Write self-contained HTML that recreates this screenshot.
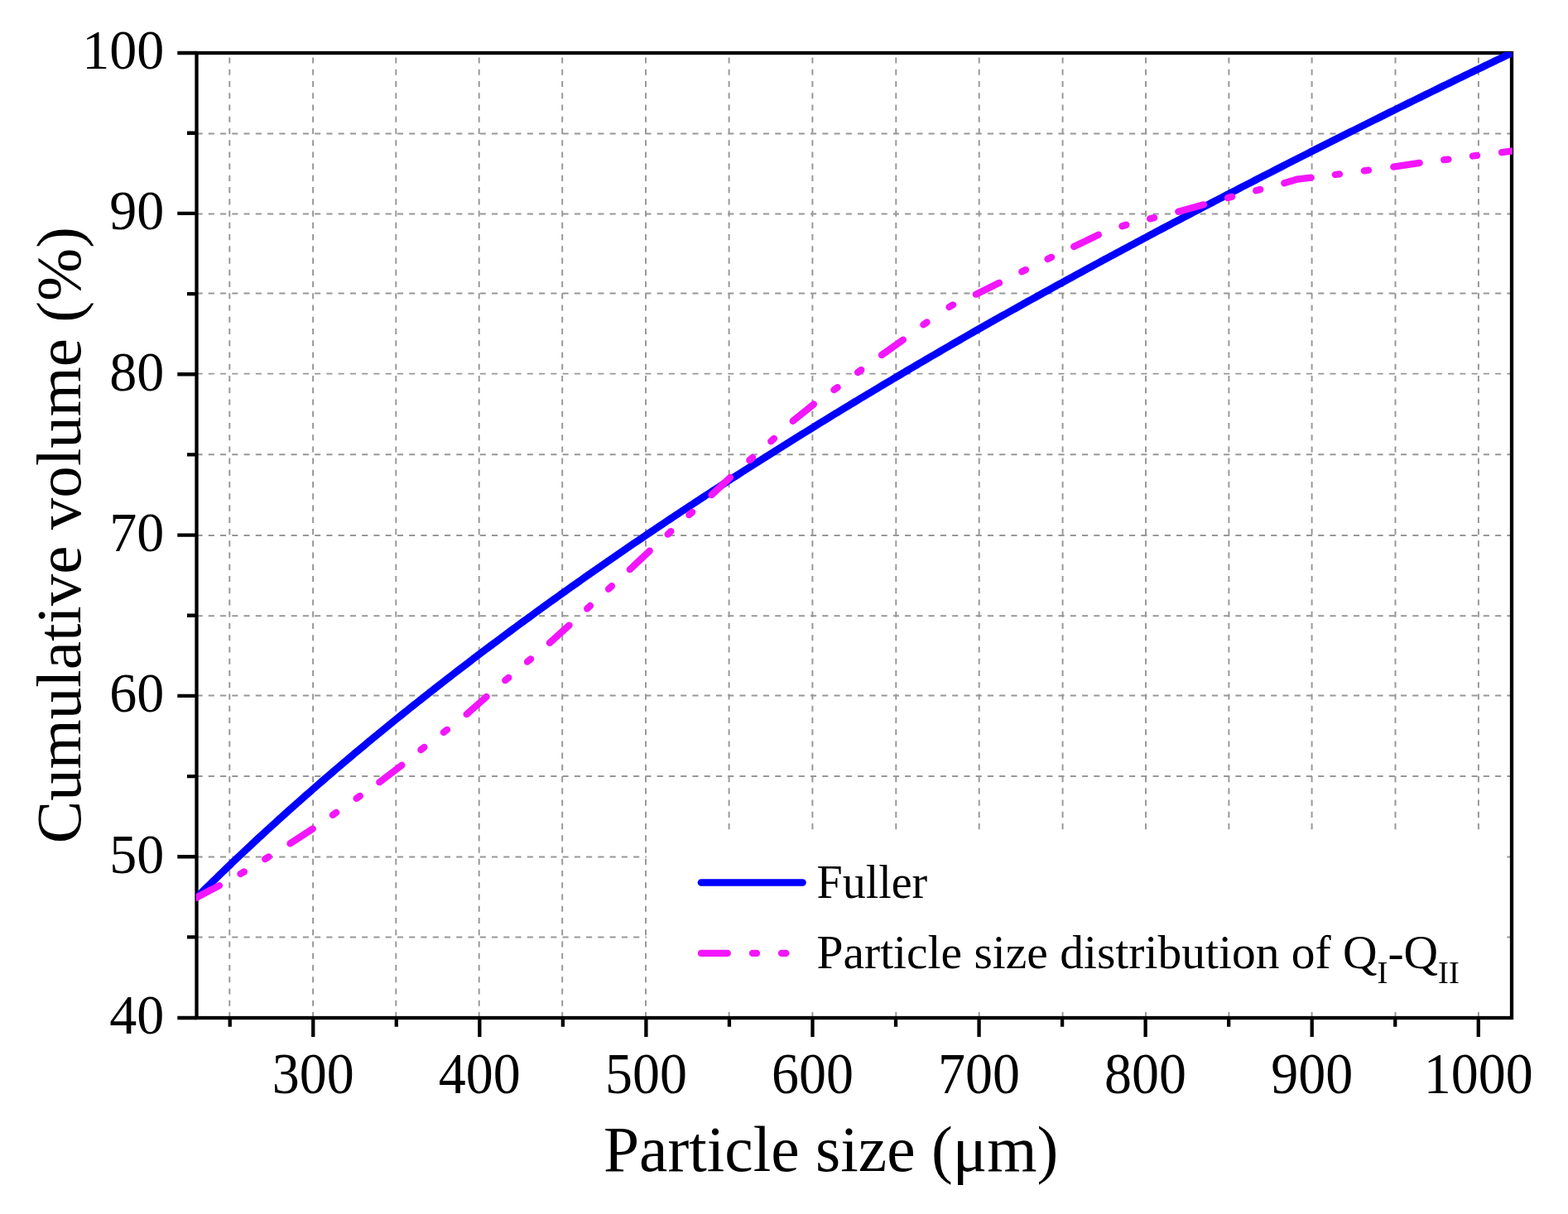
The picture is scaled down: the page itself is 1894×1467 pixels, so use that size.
<!DOCTYPE html>
<html><head><meta charset="utf-8"><title>Cumulative volume vs particle size</title>
<style>html,body{margin:0;padding:0;background:#fff;overflow:hidden}svg{display:block}</style>
</head><body>
<svg width="1894" height="1467" viewBox="0 0 1894 1467">
<rect width="1894" height="1467" fill="#fff"/>
<path d="M277.30 1230.00V64.00 M378.10 1230.00V64.00 M478.30 1230.00V64.00 M578.70 1230.00V64.00 M679.20 1230.00V64.00 M780.00 1230.00V64.00 M880.60 1230.00V64.00 M981.40 1230.00V64.00 M1082.30 1230.00V64.00 M1182.70 1230.00V64.00 M1283.60 1230.00V64.00 M1384.00 1230.00V64.00 M1484.40 1230.00V64.00 M1584.60 1230.00V64.00 M1685.50 1230.00V64.00 M1785.90 1230.00V64.00" stroke="#979797" stroke-width="1.95" stroke-dasharray="7.1 7.14" fill="none"/>
<path d="M237.50 1132.40H1826.00 M237.50 1035.50H1826.00 M237.50 938.00H1826.00 M237.50 840.50H1826.00 M237.50 744.30H1826.00 M237.50 646.90H1826.00 M237.50 549.30H1826.00 M237.50 451.60H1826.00 M237.50 354.50H1826.00 M237.50 258.50H1826.00 M237.50 161.40H1826.00" stroke="#979797" stroke-width="1.95" stroke-dasharray="7.1 7.16" fill="none"/>
<rect x="781" y="1005.5" width="1036" height="214" fill="#fff"/>
<rect x="237.5" y="64.0" width="1588.5" height="1166.0" fill="none" stroke="#000" stroke-width="4.3"/>
<path d="M237.50 1230.00H214.30 M237.50 1132.43H226.00 M237.50 1035.27H214.30 M237.50 938.10H226.00 M237.50 840.93H214.30 M237.50 743.77H226.00 M237.50 646.60H214.30 M237.50 549.43H226.00 M237.50 452.27H214.30 M237.50 355.10H226.00 M237.50 257.93H214.30 M237.50 160.77H226.00 M237.50 64.00H214.30 M277.72 1230.00V1240.70 M378.25 1230.00V1253.00 M478.79 1230.00V1240.70 M579.33 1230.00V1253.00 M679.87 1230.00V1240.70 M780.41 1230.00V1253.00 M880.94 1230.00V1240.70 M981.48 1230.00V1253.00 M1082.02 1230.00V1240.70 M1182.56 1230.00V1253.00 M1283.09 1230.00V1240.70 M1383.63 1230.00V1253.00 M1484.17 1230.00V1240.70 M1584.71 1230.00V1253.00 M1685.25 1230.00V1240.70 M1785.78 1230.00V1253.00" stroke="#000" stroke-width="4.3" fill="none"/>
<defs><clipPath id="c"><rect x="236.7" y="63" width="1590.3" height="1168"/></clipPath></defs>
<g clip-path="url(#c)"><polyline points="237.50,1084.53 241.47,1080.57 245.44,1076.64 249.41,1072.72 253.39,1068.81 257.36,1064.92 261.33,1061.05 265.30,1057.20 269.27,1053.36 273.24,1049.53 277.21,1045.72 281.18,1041.93 285.15,1038.15 289.13,1034.38 293.10,1030.63 297.07,1026.89 301.04,1023.17 305.01,1019.46 308.98,1015.77 312.95,1012.09 316.93,1008.42 320.90,1004.77 324.87,1001.13 328.84,997.50 332.81,993.89 336.78,990.29 340.75,986.70 344.72,983.12 348.70,979.56 352.67,976.01 356.64,972.47 360.61,968.94 364.58,965.43 368.55,961.92 372.52,958.43 376.49,954.95 380.47,951.48 384.44,948.03 388.41,944.58 392.38,941.14 396.35,937.72 400.32,934.31 404.29,930.91 408.26,927.51 412.23,924.13 416.21,920.76 420.18,917.40 424.15,914.05 428.12,910.72 432.09,907.39 436.06,904.07 440.03,900.76 444.00,897.46 447.98,894.17 451.95,890.89 455.92,887.62 459.89,884.36 463.86,881.11 467.83,877.87 471.80,874.63 475.77,871.41 479.75,868.20 483.72,864.99 487.69,861.80 491.66,858.61 495.63,855.43 499.60,852.26 503.57,849.10 507.55,845.95 511.52,842.80 515.49,839.67 519.46,836.54 523.43,833.42 527.40,830.31 531.37,827.21 535.34,824.11 539.32,821.03 543.29,817.95 547.26,814.88 551.23,811.82 555.20,808.76 559.17,805.72 563.14,802.68 567.11,799.65 571.09,796.62 575.06,793.61 579.03,790.60 583.00,787.60 586.97,784.60 590.94,781.62 594.91,778.64 598.88,775.67 602.86,772.70 606.83,769.74 610.80,766.79 614.77,763.85 618.74,760.91 622.71,757.98 626.68,755.06 630.65,752.14 634.62,749.23 638.60,746.33 642.57,743.43 646.54,740.54 650.51,737.66 654.48,734.79 658.45,731.92 662.42,729.05 666.39,726.19 670.37,723.34 674.34,720.50 678.31,717.66 682.28,714.83 686.25,712.00 690.22,709.18 694.19,706.37 698.16,703.56 702.14,700.76 706.11,697.97 710.08,695.18 714.05,692.39 718.02,689.62 721.99,686.84 725.96,684.08 729.93,681.32 733.91,678.56 737.88,675.82 741.85,673.07 745.82,670.34 749.79,667.60 753.76,664.88 757.73,662.16 761.70,659.44 765.68,656.73 769.65,654.03 773.62,651.33 777.59,648.63 781.56,645.95 785.53,643.26 789.50,640.58 793.48,637.91 797.45,635.25 801.42,632.58 805.39,629.93 809.36,627.27 813.33,624.63 817.30,621.99 821.27,619.35 825.24,616.72 829.22,614.09 833.19,611.47 837.16,608.85 841.13,606.24 845.10,603.63 849.07,601.03 853.04,598.43 857.02,595.84 860.99,593.25 864.96,590.67 868.93,588.09 872.90,585.52 876.87,582.95 880.84,580.38 884.81,577.82 888.78,575.27 892.76,572.72 896.73,570.17 900.70,567.63 904.67,565.09 908.64,562.56 912.61,560.03 916.58,557.51 920.56,554.99 924.53,552.47 928.50,549.96 932.47,547.45 936.44,544.95 940.41,542.45 944.38,539.96 948.35,537.47 952.33,534.98 956.30,532.50 960.27,530.03 964.24,527.55 968.21,525.08 972.18,522.62 976.15,520.16 980.12,517.70 984.09,515.25 988.07,512.80 992.04,510.36 996.01,507.92 999.98,505.48 1003.95,503.05 1007.92,500.62 1011.89,498.20 1015.87,495.77 1019.84,493.36 1023.81,490.94 1027.78,488.54 1031.75,486.13 1035.72,483.73 1039.69,481.33 1043.66,478.94 1047.63,476.55 1051.61,474.16 1055.58,471.78 1059.55,469.40 1063.52,467.02 1067.49,464.65 1071.46,462.28 1075.43,459.92 1079.41,457.56 1083.38,455.20 1087.35,452.85 1091.32,450.50 1095.29,448.15 1099.26,445.81 1103.23,443.47 1107.20,441.13 1111.17,438.80 1115.15,436.47 1119.12,434.14 1123.09,431.82 1127.06,429.50 1131.03,427.18 1135.00,424.87 1138.97,422.56 1142.94,420.26 1146.92,417.96 1150.89,415.66 1154.86,413.36 1158.83,411.07 1162.80,408.78 1166.77,406.50 1170.74,404.21 1174.72,401.93 1178.69,399.66 1182.66,397.39 1186.63,395.14 1190.60,392.89 1194.57,390.65 1198.54,388.41 1202.51,386.17 1206.48,383.93 1210.46,381.70 1214.43,379.47 1218.40,377.25 1222.37,375.03 1226.34,372.81 1230.31,370.59 1234.28,368.38 1238.26,366.17 1242.23,363.96 1246.20,361.76 1250.17,359.55 1254.14,357.36 1258.11,355.16 1262.08,352.97 1266.05,350.78 1270.03,348.59 1274.00,346.41 1277.97,344.22 1281.94,342.04 1285.91,339.87 1289.88,337.69 1293.85,335.52 1297.82,333.35 1301.79,331.19 1305.77,329.03 1309.74,326.87 1313.71,324.71 1317.68,322.55 1321.65,320.40 1325.62,318.25 1329.59,316.10 1333.57,313.96 1337.54,311.81 1341.51,309.67 1345.48,307.54 1349.45,305.40 1353.42,303.27 1357.39,301.14 1361.36,299.01 1365.33,296.88 1369.31,294.76 1373.28,292.64 1377.25,290.52 1381.22,288.40 1385.19,286.29 1389.16,284.18 1393.13,282.07 1397.11,279.96 1401.08,277.86 1405.05,275.76 1409.02,273.66 1412.99,271.56 1416.96,269.46 1420.93,267.37 1424.90,265.28 1428.88,263.19 1432.85,261.10 1436.82,259.01 1440.79,256.93 1444.76,254.85 1448.73,252.77 1452.70,250.70 1456.67,248.62 1460.64,246.55 1464.62,244.48 1468.59,242.41 1472.56,240.35 1476.53,238.28 1480.50,236.22 1484.47,234.16 1488.44,232.10 1492.42,230.05 1496.39,227.99 1500.36,225.94 1504.33,223.89 1508.30,221.84 1512.27,219.80 1516.24,217.75 1520.21,215.71 1524.18,213.67 1528.16,211.63 1532.13,209.60 1536.10,207.56 1540.07,205.53 1544.04,203.50 1548.01,201.47 1551.98,199.44 1555.96,197.42 1559.93,195.40 1563.90,193.37 1567.87,191.35 1571.84,189.34 1575.81,187.32 1579.78,185.31 1583.75,183.30 1587.72,181.29 1591.70,179.28 1595.67,177.27 1599.64,175.27 1603.61,173.27 1607.58,171.27 1611.55,169.27 1615.52,167.27 1619.49,165.27 1623.47,163.28 1627.44,161.29 1631.41,159.30 1635.38,157.31 1639.35,155.33 1643.32,153.34 1647.29,151.36 1651.27,149.38 1655.24,147.40 1659.21,145.42 1663.18,143.45 1667.15,141.47 1671.12,139.50 1675.09,137.53 1679.06,135.56 1683.03,133.60 1687.01,131.63 1690.98,129.67 1694.95,127.71 1698.92,125.75 1702.89,123.79 1706.86,121.84 1710.83,119.88 1714.81,117.93 1718.78,115.98 1722.75,114.03 1726.72,112.08 1730.69,110.14 1734.66,108.20 1738.63,106.26 1742.60,104.32 1746.58,102.38 1750.55,100.44 1754.52,98.51 1758.49,96.58 1762.46,94.64 1766.43,92.72 1770.40,90.79 1774.37,88.86 1778.34,86.94 1782.32,85.02 1786.29,83.10 1790.26,81.18 1794.23,79.26 1798.20,77.35 1802.17,75.44 1806.14,73.53 1810.12,71.62 1814.09,69.71 1818.06,67.81 1822.03,65.90 1826.00,64.00" stroke="#0000ff" stroke-width="8.8" fill="none" stroke-linejoin="round"/>
<path d="M236.0 1085.2 L265.0 1070.1 M290.5 1056.0 L294.9 1053.4 M320.2 1038.1 L324.6 1035.3 M350.5 1019.3 L377.8 1001.5 M401.9 984.9 L406.1 981.9 M430.6 964.8 L434.8 961.8 M458.3 945.2 L485.3 924.7 M508.4 906.1 L512.4 902.9 M535.8 885.0 L540.0 881.8 M563.6 863.1 L587.6 842.0 M610.3 822.2 L614.3 818.8 M637.0 799.7 L641.0 796.3 M663.9 776.8 L687.5 755.6 M709.2 735.6 L713.0 732.0 M735.1 711.8 L738.9 708.2 M760.8 688.2 L784.7 665.7 M806.6 645.7 L810.4 642.1 M832.4 622.2 L836.2 618.8 M859.5 598.1 L882.0 577.0 M905.3 556.2 L909.1 552.8 M931.2 533.3 L935.0 529.9 M957.7 508.8 L982.9 488.4 M1007.4 471.2 L1011.6 468.2 M1036.1 450.0 L1040.3 447.0 M1065.0 429.0 L1090.9 410.6 M1115.4 392.4 L1119.6 389.4 M1146.5 371.0 L1151.1 368.4 M1178.8 355.7 L1207.0 341.8 M1234.3 328.3 L1238.9 326.1 M1265.5 313.0 L1270.1 310.8 M1297.2 298.0 L1326.9 283.7 M1355.4 273.3 L1360.4 271.7 M1389.1 264.3 L1394.1 263.1 M1423.3 255.7 L1454.0 247.3 M1483.1 239.1 L1488.1 237.7 M1517.2 230.3 L1522.2 228.9 M1551.3 221.3 L1566.5 216.7 L1583.7 214.7 M1612.8 211.0 L1618.0 210.4 M1647.8 206.3 L1653.0 205.7 M1683.3 201.6 L1714.7 196.9 M1744.2 193.2 L1749.4 192.6 M1778.9 188.5 L1784.1 187.9 M1814.0 184.1 L1830.0 182.0" stroke="#f216fc" stroke-width="8.3" fill="none" stroke-linecap="round" stroke-linejoin="round"/></g>
<g font-family="'Liberation Serif', 'Times New Roman', serif" font-size="66" fill="#000"><text x="198.3" y="1249.2" text-anchor="end" transform="translate(0 1249.2) scale(1 1.04) translate(0 -1249.2)">40</text><text x="198.3" y="1054.9" text-anchor="end" transform="translate(0 1054.9) scale(1 1.04) translate(0 -1054.9)">50</text><text x="198.3" y="860.5" text-anchor="end" transform="translate(0 860.5) scale(1 1.04) translate(0 -860.5)">60</text><text x="198.3" y="666.2" text-anchor="end" transform="translate(0 666.2) scale(1 1.04) translate(0 -666.2)">70</text><text x="198.3" y="471.9" text-anchor="end" transform="translate(0 471.9) scale(1 1.04) translate(0 -471.9)">80</text><text x="198.3" y="277.5" text-anchor="end" transform="translate(0 277.5) scale(1 1.04) translate(0 -277.5)">90</text><text x="198.3" y="83.2" text-anchor="end" transform="translate(0 83.2) scale(1 1.04) translate(0 -83.2)">100</text><text x="378.3" y="1320.6" text-anchor="middle" transform="translate(0 1320.6) scale(1 1.045) translate(0 -1320.6)">300</text><text x="579.3" y="1320.6" text-anchor="middle" transform="translate(0 1320.6) scale(1 1.045) translate(0 -1320.6)">400</text><text x="780.4" y="1320.6" text-anchor="middle" transform="translate(0 1320.6) scale(1 1.045) translate(0 -1320.6)">500</text><text x="981.5" y="1320.6" text-anchor="middle" transform="translate(0 1320.6) scale(1 1.045) translate(0 -1320.6)">600</text><text x="1182.6" y="1320.6" text-anchor="middle" transform="translate(0 1320.6) scale(1 1.045) translate(0 -1320.6)">700</text><text x="1383.6" y="1320.6" text-anchor="middle" transform="translate(0 1320.6) scale(1 1.045) translate(0 -1320.6)">800</text><text x="1584.7" y="1320.6" text-anchor="middle" transform="translate(0 1320.6) scale(1 1.045) translate(0 -1320.6)">900</text><text x="1785.8" y="1320.6" text-anchor="middle" transform="translate(0 1320.6) scale(1 1.045) translate(0 -1320.6)">1000</text></g>
<text font-family="'Liberation Serif', 'Times New Roman', serif" font-size="77.5" x="729" y="1414.7">Particle size (μm)</text>
<text font-family="'Liberation Serif', 'Times New Roman', serif" font-size="77.1" transform="translate(96.8 1019.2) rotate(-90)">Cumulative volume (%)</text>
<line x1="847" y1="1066.5" x2="969.5" y2="1066.5" stroke="#0000ff" stroke-width="8.7" stroke-linecap="round"/>
<path d="M846.9 1151.9H878.8M909 1151.9H914M944 1151.9H949.4" stroke="#f216fc" stroke-width="8.3" stroke-linecap="round"/>
<text font-family="'Liberation Serif', 'Times New Roman', serif" font-size="56" x="986.5" y="1084.65">Fuller</text>
<text font-family="'Liberation Serif', 'Times New Roman', serif" font-size="57.5" x="986.5" y="1169.8">Particle size distribution of Q<tspan font-size="38.5" dy="18.4">I</tspan><tspan dy="-18.4">-Q</tspan><tspan font-size="38.5" dy="18.4">II</tspan></text>
</svg>
</body></html>
